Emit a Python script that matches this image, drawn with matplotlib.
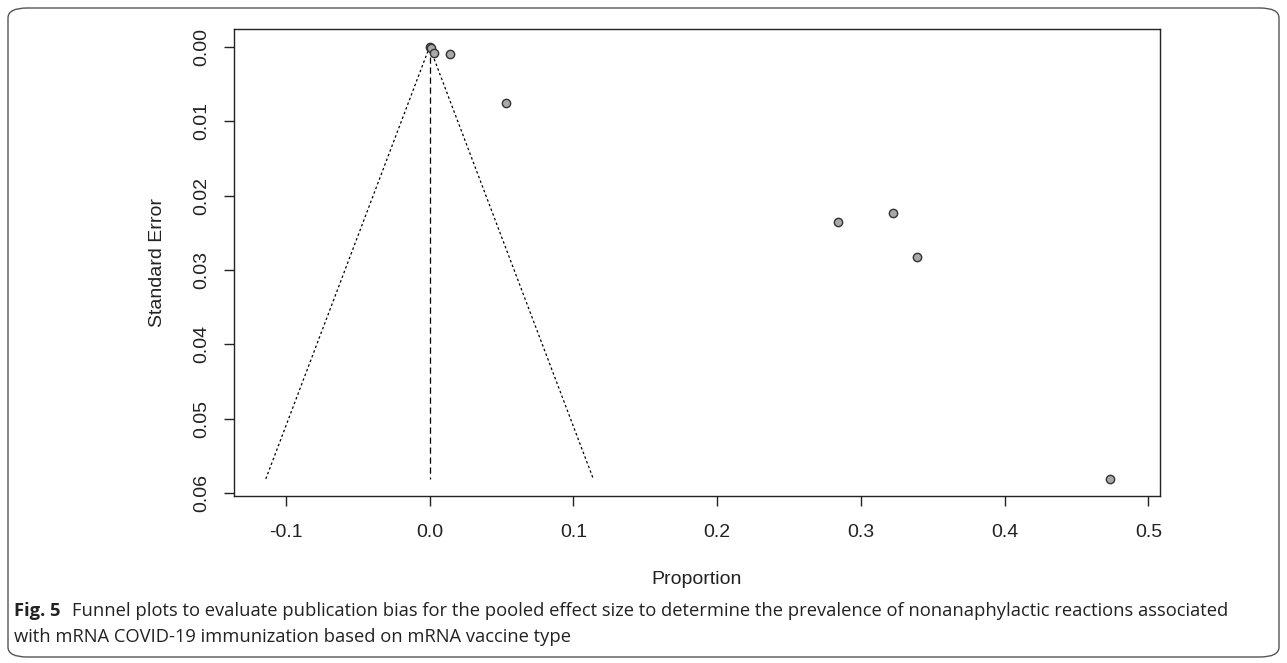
import matplotlib.pyplot as plt
from matplotlib.patches import FancyBboxPatch
import numpy as np

# study proportions and standard errors
proportion = [0.0, 0.001, 0.003, 0.014, 0.053, 0.284, 0.322, 0.339, 0.473]
std_error = [0.0, 0.0002, 0.0008, 0.0009, 0.0076, 0.0235, 0.0224, 0.0283, 0.0581]
pooled = 0.0

x_ticks = [-0.1, 0.0, 0.1, 0.2, 0.3, 0.4, 0.5]
y_ticks = [0.00, 0.01, 0.02, 0.03, 0.04, 0.05, 0.06]

caption_bold = 'Fig. 5'
caption_rest = ('Funnel plots to evaluate publication bias for the pooled effect size to determine '
                'the prevalence of nonanaphylactic reactions associated')
caption_line2 = 'with mRNA COVID-19 immunization based on mRNA vaccine type'

fig = plt.figure(figsize=(12.87, 6.63), dpi=100)

# rounded frame around the whole figure panel
frame = FancyBboxPatch((8 / 1287, 6 / 663), 1271 / 1287, 649 / 663,
                       boxstyle='round,pad=0,rounding_size=0.015',
                       transform=fig.transFigure, facecolor='none',
                       edgecolor='#555555', linewidth=1.0)
fig.patches.append(frame)

ax = fig.add_axes([234 / 1287, 1 - 496 / 663, (1160 - 234) / 1287, (496 - 29) / 663])

# funnel (95% limits) and the vertical line at the pooled estimate
se_max = max(std_error)
ax.plot([pooled - 1.96 * se_max, pooled, pooled + 1.96 * se_max], [se_max, 0, se_max],
        color='black', linewidth=0.9, linestyle=(0, (2, 2)))
ax.plot([pooled, pooled], [0, se_max], color='black', linewidth=0.9, linestyle=(0, (5, 3)))

ax.plot(proportion, std_error, 'o', markersize=6, markerfacecolor='#a8a8a8',
        markeredgecolor='#333333', markeredgewidth=1.0)

ax.set_xlim(-0.136, 0.508)
ax.set_ylim(0.0604, -0.0024)
ax.set_xticks(x_ticks)
ax.set_xticklabels(['%.1f' % v for v in x_ticks])
ax.set_yticks(y_ticks)
ax.set_yticklabels(['%.2f' % v for v in y_ticks], rotation=90, va='center')

for lbl in ax.get_xticklabels() + ax.get_yticklabels():
    lbl.set_family('Liberation Sans')
    lbl.set_fontsize(14)
    lbl.set_color('#222222')
ax.tick_params(direction='out', length=7, width=1.0, color='#222222')
ax.tick_params(axis='x', pad=13)
ax.tick_params(axis='y', pad=10)
for s in ax.spines.values():
    s.set_linewidth(1.0)
    s.set_color('#222222')

ax.set_xlabel('Proportion', family='Liberation Sans', fontsize=14, color='#222222', labelpad=22)
ax.set_ylabel('Standard Error', family='Liberation Sans', fontsize=14, color='#222222', labelpad=20)

# caption
cap_y1 = 1 - 611 / 663
cap_y2 = 1 - 637 / 663
t_bold = fig.text(14 / 1287, cap_y1, caption_bold, family='Open Sans', fontweight='bold',
                  fontsize=13.2, va='center', ha='left', color='#222222')
renderer = fig.canvas.get_renderer()
bb = t_bold.get_window_extent(renderer=renderer)
fig.text((bb.x1 + 11) / 1287, cap_y1, caption_rest, family='Open Sans',
         fontsize=13.2, va='center', ha='left', color='#222222')
fig.text(14 / 1287, cap_y2, caption_line2, family='Open Sans',
         fontsize=13.2, va='center', ha='left', color='#222222')

fig.savefig('out.png', dpi=100)
